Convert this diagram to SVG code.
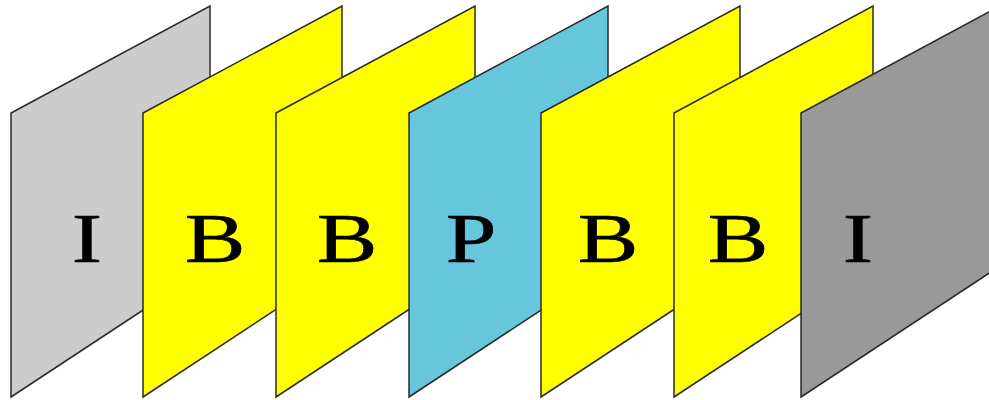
<svg xmlns="http://www.w3.org/2000/svg" width="989" height="400" viewBox="0 0 989 400">
  <style>
    .frame { stroke: #2a2a2a; stroke-width: 1.5; stroke-linejoin: miter; }
    .lt { fill: #cccccc; }
    .dk { fill: #999999; }
    .ye { fill: #ffff00; }
    .bl { fill: #65c6dc; }
    .lbl { font-family: "Liberation Serif", "Times New Roman", serif; font-size: 70px; fill: #000000; stroke: #000000; stroke-width: 0.6; text-anchor: middle; }
  </style>
  <defs>
    <path id="panel" d="M0,0 L199,-107 L199,153 L0,284 Z"/>
  </defs>
  <rect width="989" height="400" fill="#ffffff"/>
  <g id="frame1">
    <use href="#panel" x="11" y="113" class="frame lt"/>
    <text class="lbl" transform="translate(87,262) scale(1.3,1)">I</text>
  </g>
  <g id="frame2">
    <use href="#panel" x="143" y="113" class="frame ye"/>
    <text class="lbl" transform="translate(215,262) scale(1.3,1)">B</text>
  </g>
  <g id="frame3">
    <use href="#panel" x="276" y="113" class="frame ye"/>
    <text class="lbl" transform="translate(347,262) scale(1.3,1)">B</text>
  </g>
  <g id="frame4">
    <use href="#panel" x="409" y="113" class="frame bl"/>
    <text class="lbl" transform="translate(471,262) scale(1.3,1)">P</text>
  </g>
  <g id="frame5">
    <use href="#panel" x="541" y="113" class="frame ye"/>
    <text class="lbl" transform="translate(608,262) scale(1.3,1)">B</text>
  </g>
  <g id="frame6">
    <use href="#panel" x="674" y="113" class="frame ye"/>
    <text class="lbl" transform="translate(738,262) scale(1.3,1)">B</text>
  </g>
  <g id="frame7">
    <use href="#panel" x="801" y="113" class="frame dk"/>
    <text class="lbl" transform="translate(858,262) scale(1.3,1)">I</text>
  </g>
  <g id="connectors"/>
</svg>
